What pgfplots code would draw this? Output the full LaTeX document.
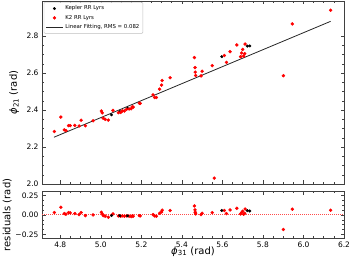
\documentclass[border=0pt]{standalone}
\usepackage{pgfplots}
\usepackage{pgfplotstable}
\pgfplotsset{compat=1.18}
\usepackage{fontspec}
\setmainfont{DejaVu Sans}

\pgfplotstableread{
x y r
4.771 2.284 0.030
4.803 2.362 0.098
4.820 2.293 0.017
4.828 2.289 0.009
4.841 2.316 0.030
4.849 2.316 0.026
4.872 2.317 0.017
4.893 2.314 0.004
4.903 2.345 0.030
4.924 2.315 -0.009
4.962 2.342 0.000
5.003 2.395 0.034
5.007 2.385 0.013
5.012 2.356 -0.009
5.022 2.350 -0.017
5.037 2.346 -0.030
5.060 2.398 0.013
5.087 2.386 -0.013
5.098 2.387 -0.017
5.106 2.395 -0.013
5.116 2.395 -0.017
5.127 2.404 -0.013
5.140 2.406 -0.017
5.150 2.407 -0.021
5.155 2.417 -0.013
5.160 2.416 -0.017
5.190 2.437 -0.009
5.195 2.436 -0.013
5.258 2.482 0.004
5.266 2.468 -0.013
5.274 2.468 -0.017
5.290 2.513 0.021
5.300 2.535 0.038
5.303 2.560 0.060
5.342 2.575 0.056
5.462 2.684 0.115
5.465 2.630 0.064
5.466 2.605 0.034
5.468 2.587 0.013
5.495 2.585 0.004
5.500 2.610 0.021
5.550 2.640 0.030
5.560 2.032 -0.580
5.610 2.695 0.056
5.620 2.658 0.017
5.638 2.716 0.064
5.671 2.752 0.085
5.690 2.689 0.013
5.695 2.709 0.030
5.700 2.728 0.047
5.705 2.692 0.009
5.710 2.705 0.020
5.712 2.757 0.075
5.901 2.586 -0.187
5.945 2.866 0.073
6.134 2.940 0.060
}\ktwo

\pgfplotstableread{
x y r
5.053 2.374 -0.009
5.094 2.392 -0.010
5.132 2.410 -0.012
5.597 2.689 0.056
5.723 2.746 0.055
5.735 2.747 0.050
}\kepler

\pgfplotstableread{
x y
4.769 2.253
6.134 2.880
}\fitline

\pgfplotsset{
  myaxis/.style={
    scale only axis,
    width=302pt,
    xmin=4.71, xmax=6.2,
    xtick={4.8,5.0,5.2,5.4,5.6,5.8,6.0,6.2},
    minor x tick num=3,
    tick align=inside,
    xtick pos=both, ytick pos=both,
    major tick length=3.5pt,
    minor tick length=2pt,
    axis line style={black!75, line width=0.5pt},
    every tick/.style={black!75, line width=0.5pt},
    tick label style={font=\fontsize{7.5}{9}\selectfont},
    /pgf/number format/assume math mode=true,
  }
}

\begin{document}
\begin{tikzpicture}
\useasboundingbox (0pt,0pt) rectangle (350pt,262pt);

\begin{axis}[
  myaxis,
  at={(42pt,78pt)}, anchor=south west,
  height=183pt,
  ymin=2.0, ymax=2.99,
  ytick={2.0,2.2,2.4,2.6,2.8},
  minor y tick num=3,
  xticklabels={},
  yticklabel style={/pgf/number format/fixed,/pgf/number format/fixed zerofill,/pgf/number format/precision=1},
  ylabel={{\itshape ϕ}\textsubscript{21} (rad)},
  ylabel style={at={(axis description cs:-0.092,0.5)}, anchor=center, font=\fontsize{10}{12}\selectfont},
  legend style={at={(0.006,0.994)}, anchor=north west, font=\fontsize{5.4}{6.5}\selectfont,
    draw=black!25, rounded corners=1pt, fill=white, inner sep=1.5pt, row sep=-0.3pt,
    cells={anchor=west}},
  legend cell align=left,
]
\addplot[only marks, mark=*, mark size=1.3pt, black] table[x=x,y=y]{\kepler};
\addlegendentry{Kepler RR Lyrs}
\addplot[only marks, mark=*, mark size=1.5pt, red, mark options={draw=red}] table[x=x,y=y]{\ktwo};
\addlegendentry{K2 RR Lyrs}
\addplot[black!85, line width=0.8pt] table[x=x,y=y]{\fitline};
\addlegendentry{Linear Fitting, RMS = 0.082}
\end{axis}

\begin{axis}[
  myaxis,
  at={(42pt,23.7pt)}, anchor=south west,
  height=46.8pt,
  ymin=-0.3, ymax=0.3,
  ytick={-0.25,0,0.25},
  yticklabels={−0.25,0.00,0.25},
  minor y tick num=3,
  xticklabel style={/pgf/number format/fixed,/pgf/number format/fixed zerofill,/pgf/number format/precision=1},
  xlabel={{\itshape ϕ}\textsubscript{31} (rad)},
  xlabel style={at={(axis description cs:0.5,-0.28)}, anchor=center, font=\fontsize{10}{12}\selectfont},
  ylabel={residuals (rad)},
  ylabel style={at={(axis description cs:-0.115,0.5)}, anchor=center, font=\fontsize{10}{12}\selectfont},
]
\addplot[red!70, line width=0.8pt, dash pattern=on 1pt off 1pt] table[x=x,y=y]{
x y
4.71 0
6.2 0
};
\addplot[only marks, mark=*, mark size=1.5pt, red] table[x=x,y=r]{\ktwo};
\addplot[only marks, mark=*, mark size=1.3pt, black] table[x=x,y=r]{\kepler};
\end{axis}
\end{tikzpicture}
\end{document}
